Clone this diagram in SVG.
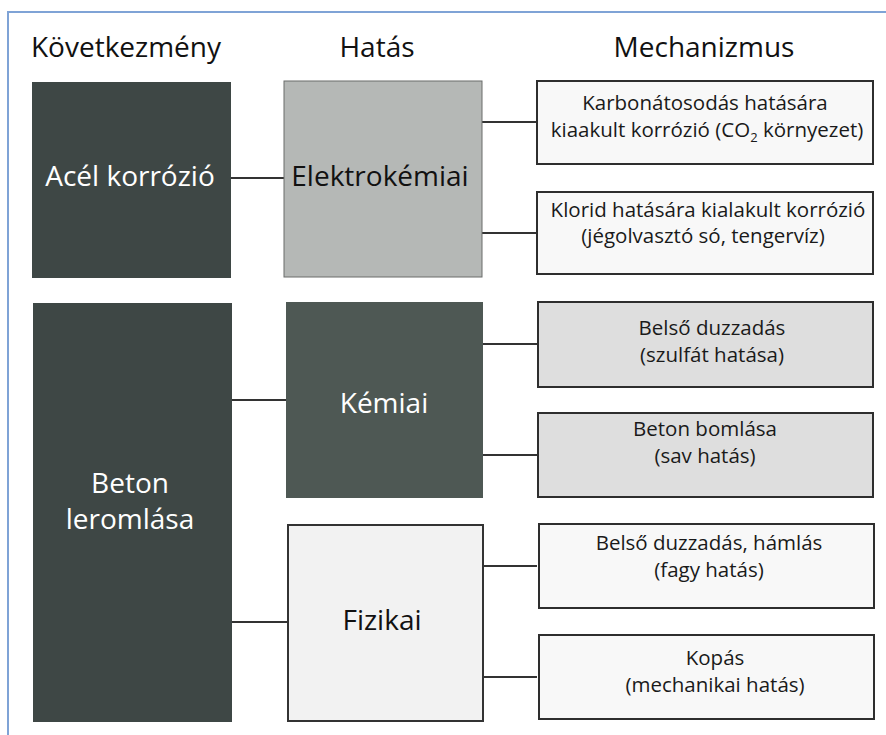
<svg xmlns="http://www.w3.org/2000/svg" width="886" height="735" viewBox="0 0 886 735">
<style>
text{font-family:"Open Sans","Noto Sans","Liberation Sans",sans-serif;text-anchor:middle}
.hdr{font-size:28px;fill:#111}
.big{font-size:28px}
.w{fill:#ffffff}
.b{fill:#111111}
.mech{font-size:20.5px;fill:#1a1a1a}
.mbox{stroke:#2e2e2e;stroke-width:2}
.conn line{stroke:#333;stroke-width:2}
</style>
<rect width="886" height="735" fill="#ffffff"/>
<path d="M8,735 V12 H886" fill="none" stroke="#7fa3d6" stroke-width="2"/>
<g id="headers">
<text class="hdr" x="126" y="57">Következmény</text>
<text class="hdr" x="377" y="57">Hatás</text>
<text class="hdr" x="704" y="57">Mechanizmus</text>
</g>
<g class="conn" id="connectors">
<line x1="231" y1="178" x2="284" y2="178"/>
<line x1="482" y1="122" x2="537" y2="122"/>
<line x1="482" y1="233" x2="537" y2="233"/>
<line x1="232" y1="400" x2="286" y2="400"/>
<line x1="232" y1="622" x2="288" y2="622"/>
<line x1="483" y1="344" x2="537" y2="344"/>
<line x1="483" y1="455" x2="537" y2="455"/>
<line x1="483" y1="566" x2="537" y2="566"/>
<line x1="483" y1="677" x2="537" y2="677"/>
</g>
<g id="n_acel">
<rect x="32" y="82" width="199" height="196" fill="#3e4745"/>
<text class="big w" x="130" y="186">Acél korrózió</text>
</g>
<g id="n_elektro">
<rect x="284" y="81" width="198" height="196" fill="#b5b8b6" stroke="#6a6d6b" stroke-width="1"/>
<text class="big b" x="380" y="186">Elektrokémiai</text>
</g>
<g id="n_beton">
<rect x="33" y="303" width="199" height="419" fill="#3e4745"/>
<text class="big w" x="130" y="493">Beton</text>
<text class="big w" x="130" y="529">leromlása</text>
</g>
<g id="n_kemiai">
<rect x="286" y="302" width="197" height="196" fill="#4e5854"/>
<text class="big w" x="384" y="413">Kémiai</text>
</g>
<g id="n_fizikai">
<rect x="288" y="525" width="195" height="196" fill="#f2f2f2" stroke="#333" stroke-width="2"/>
<text class="big b" x="382" y="630">Fizikai</text>
</g>
<g id="m1">
<rect class="mbox" x="537" y="81" width="336" height="83" fill="#f8f8f8"/>
<text class="mech" x="705" y="110">Karbonátosodás hatására</text>
<text class="mech" x="707" y="137">kiaakult korrózió (CO<tspan font-size="13" dy="5">2</tspan><tspan dy="-5"> környezet)</tspan></text>
</g>
<g id="m2">
<rect class="mbox" x="537" y="192" width="336" height="82" fill="#f8f8f8"/>
<text class="mech" x="708" y="217">Klorid hatására kialakult korrózió</text>
<text class="mech" x="703" y="243">(jégolvasztó só, tengervíz)</text>
</g>
<g id="m3">
<rect class="mbox" x="538" y="302" width="335" height="85" fill="#dedede"/>
<text class="mech" x="712" y="335">Belső duzzadás</text>
<text class="mech" x="712" y="362">(szulfát hatása)</text>
</g>
<g id="m4">
<rect class="mbox" x="538" y="413" width="335" height="84" fill="#dedede"/>
<text class="mech" x="705" y="436">Beton bomlása</text>
<text class="mech" x="705" y="463">(sav hatás)</text>
</g>
<g id="m5">
<rect class="mbox" x="539" y="524" width="335" height="84" fill="#f8f8f8"/>
<text class="mech" x="709" y="550">Belső duzzadás, hámlás</text>
<text class="mech" x="709" y="577">(fagy hatás)</text>
</g>
<g id="m6">
<rect class="mbox" x="539" y="635" width="335" height="84" fill="#f8f8f8"/>
<text class="mech" x="715" y="665">Kopás</text>
<text class="mech" x="715" y="692">(mechanikai hatás)</text>
</g>
</svg>
